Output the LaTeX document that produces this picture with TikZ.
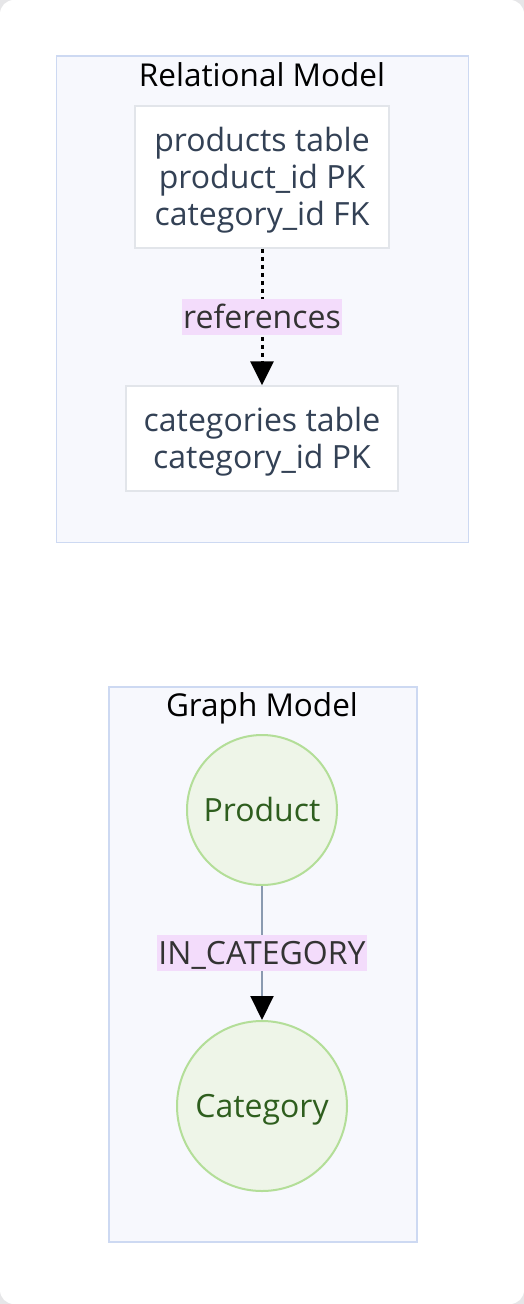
\documentclass[tikz,border=0pt]{standalone}
\usepackage{fontspec}
\setmainfont{Open Sans}
\usetikzlibrary{arrows.meta}
\definecolor{pagebg}{HTML}{E6E6E8}
\definecolor{clfill}{HTML}{F7F8FD}
\definecolor{cldraw}{HTML}{CDD9F2}
\definecolor{boxdraw}{HTML}{E2E5EA}
\definecolor{boxtext}{HTML}{334155}
\definecolor{lblfill}{HTML}{F3DCFB}
\definecolor{lbltext}{HTML}{333333}
\definecolor{circfill}{HTML}{EEF5E8}
\definecolor{circdraw}{HTML}{B3DE98}
\definecolor{circtext}{HTML}{2E5E1E}
\definecolor{edgeline}{HTML}{8A9AB0}
\tikzset{
  capcenter/.style={text height=23bp, text depth=0pt},
  cluster/.style={draw=cldraw, fill=clfill, line width=1.5bp, anchor=north west, inner sep=0pt},
  cltitle/.style={capcenter, text=black, font=\fontsize{31.5bp}{37bp}\selectfont, inner sep=0pt},
  tablebox/.style={draw=boxdraw, fill=white, line width=1.5bp, inner sep=0pt},
  tabletext/.style={text=boxtext, align=center, font=\fontsize{32bp}{37bp}\selectfont,
    inner sep=0pt, yshift=-3.5bp},
  entity/.style={capcenter, circle, draw=circdraw, fill=circfill, line width=2bp, text=circtext,
    font=\fontsize{32bp}{37bp}\selectfont, inner sep=0pt},
  lbl/.style={fill=lblfill, text=lbltext, font=\fontsize{32bp}{37bp}\selectfont,
    text height=25bp, text depth=2bp, inner xsep=1bp, inner ysep=4.5bp},
  dotedge/.style={line width=3bp, dash pattern=on 4bp off 4bp, -{Triangle[width=23bp,length=24bp]}},
  graphedge/.style={draw=edgeline, line width=2bp, -{Triangle[width=23bp,length=24bp,color=black,fill=black]}},
}
\begin{document}
\begin{tikzpicture}[x=1bp,y=-1bp]
\useasboundingbox (0,0) rectangle (524,1304);
\fill[pagebg] (0,0) rectangle (524,1304);
\fill[white, rounded corners=14bp] (0,0) rectangle (524,1304);
% Relational model
\node[cluster, minimum width=412bp, minimum height=486bp] (relc) at (55.5,55.5) {};
\node[cltitle] (relt) at (262,75) {Relational Model};
\node[tablebox, minimum width=254bp, minimum height=142bp] (prodtab) at (262,177) {};
\node[tabletext] (prodtxt) at (prodtab.center) {products table\\product\_id PK\\category\_id FK};
\node[tablebox, minimum width=272bp, minimum height=105bp] (cattab) at (262,438.5) {};
\node[tabletext] (cattxt) at (cattab.center) {categories table\\category\_id PK};
\draw[dotedge] (prodtab) -- node[lbl] (reflbl) {references} (cattab);
% Graph model
\node[cluster, minimum width=308bp, minimum height=555bp] (grc) at (108,686) {};
\node[cltitle] (grt) at (262,705) {Graph Model};
\node[entity, minimum size=150bp] (prodent) at (262,810) {Product};
\node[entity, minimum size=170bp] (catent) at (262,1106) {Category};
\draw[graphedge] (prodent) -- node[lbl] (inlbl) {IN\_CATEGORY} (catent);
\end{tikzpicture}
\end{document}
